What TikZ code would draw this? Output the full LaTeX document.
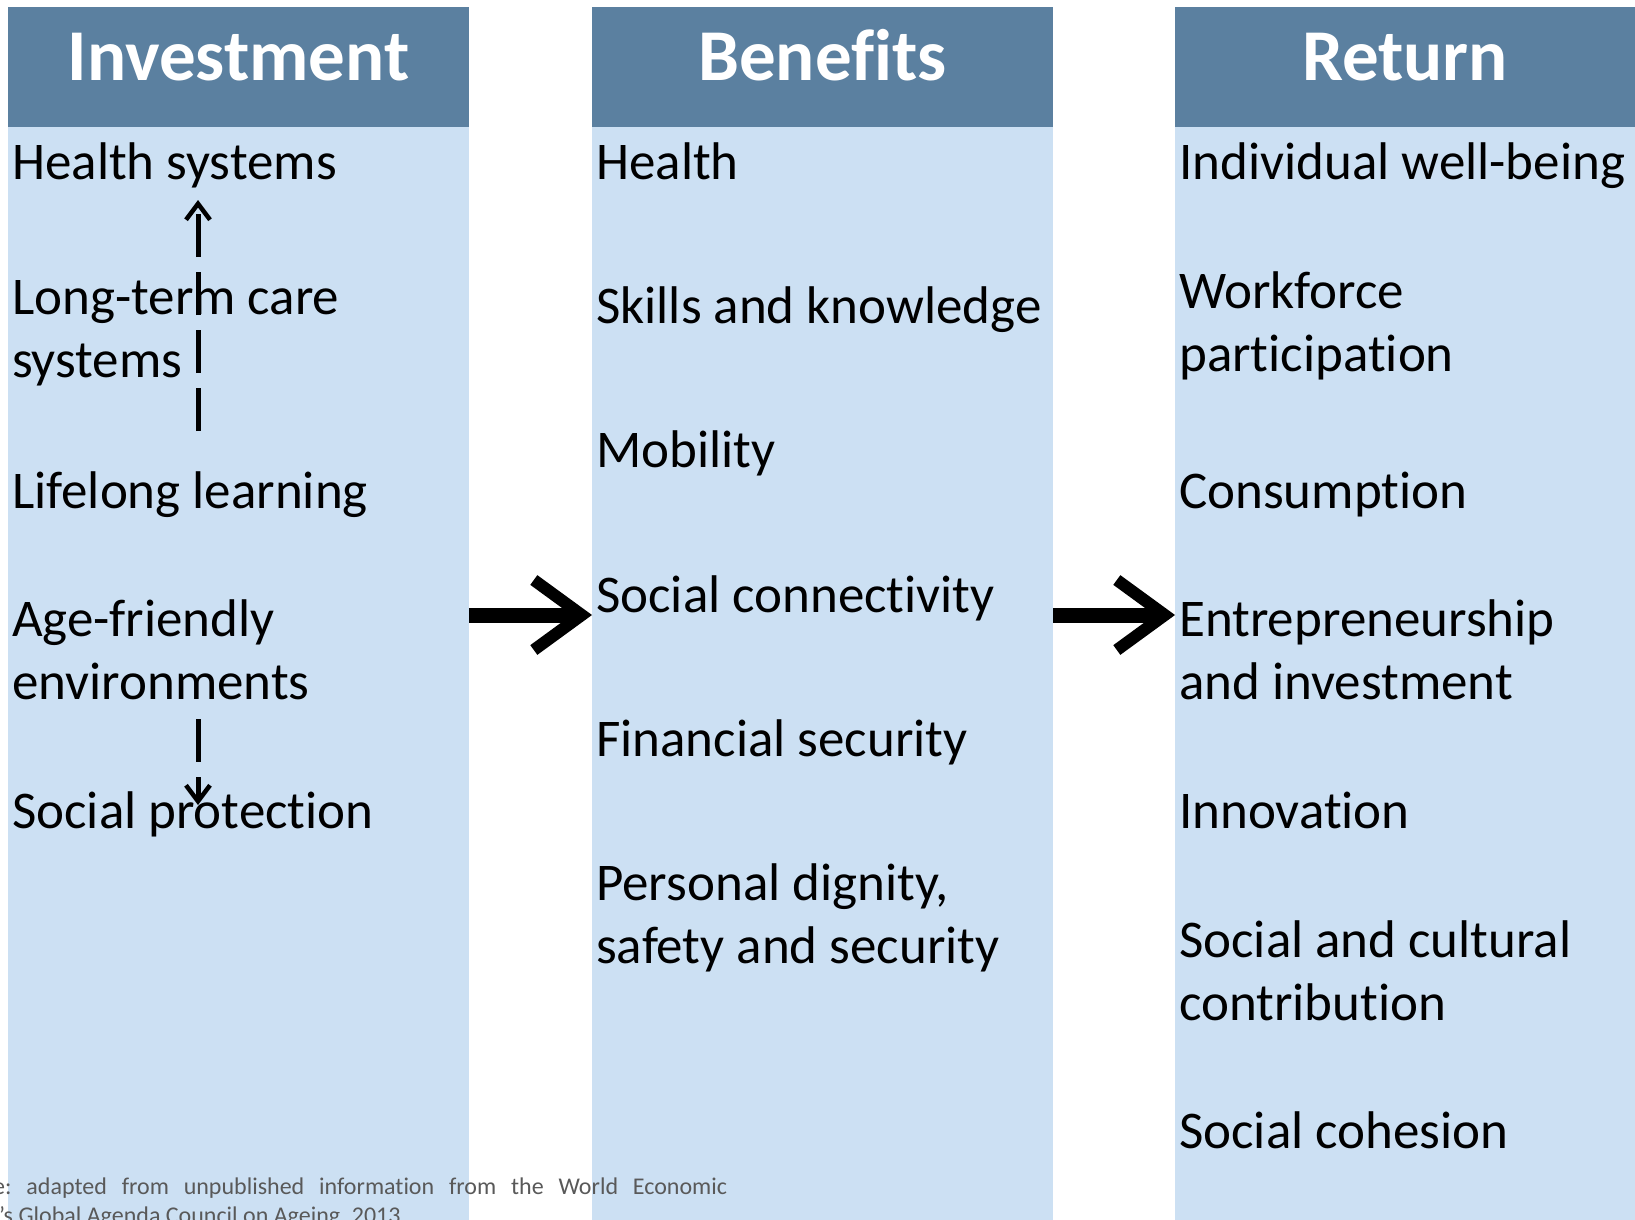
\documentclass[tikz,border=0pt]{standalone}
\usepackage{fontspec}
\setmainfont{Carlito}[Ligatures=CommonOff]
\usetikzlibrary{arrows.meta}
\definecolor{hdr}{RGB}{91,128,160}
\definecolor{colbg}{RGB}{204,224,243}
\definecolor{notegray}{RGB}{89,89,89}
\begin{document}
\frenchspacing
\begin{tikzpicture}[x=1pt,y=-1pt,
  colbox/.style={fill=colbg, draw=none, inner sep=0pt, outer sep=0pt, anchor=north west, minimum height=1213pt},
  hdrbox/.style={fill=hdr, draw=none, inner sep=0pt, outer sep=0pt, anchor=north west, minimum height=120pt},
  hdrtext/.style={anchor=base, inner sep=0pt, text=white, font=\fontsize{73}{88}\selectfont\bfseries},
  bodytext/.style={anchor=base west, inner sep=0pt, align=left, font=\fontsize{53}{63}\selectfont},
  notetext/.style={anchor=base west, inner sep=0pt, text=notegray, font=\fontsize{24}{29}\selectfont},
  bigarrow/.style={line width=15pt, -{Straight Barb[length=48pt,width=70pt,line width=12pt]}},
  dasharrow/.style={line width=5pt, dash pattern=on 43pt off 15pt, -{Straight Barb[length=16pt,width=24pt,line width=4.5pt]}}
]
\useasboundingbox (0,0) rectangle (1635,1220);
\clip (0,0) rectangle (1635,1220);

% columns
\node[colbox, minimum width=461pt] (col1) at (8,7) {};
\node[colbox, minimum width=461pt] (col2) at (592,7) {};
\node[colbox, minimum width=460pt] (col3) at (1175,7) {};
\node[hdrbox, minimum width=461pt] (hd1) at (8,7) {};
\node[hdrbox, minimum width=461pt] (hd2) at (592,7) {};
\node[hdrbox, minimum width=460pt] (hd3) at (1175,7) {};

% headers
\node[hdrtext] (t1) at (238.5,81) {Investment};
\node[hdrtext] (t2) at (822.5,81) {Benefits};
\node[hdrtext] (t3) at (1405,81) {Return};

% column 1 (multi-line nodes are placed by the baseline of their last line)
\node[bodytext] (i1) at (12,179) {Health systems};
\node[bodytext] (i2) at (12,377) {Long-term care\\systems};
\node[bodytext] (i3) at (12,508) {Lifelong learning};
\node[bodytext] (i4) at (12,699) {Age-friendly\\environments};
\node[bodytext] (i5) at (12,828) {Social protection};

% column 2
\node[bodytext] (b1) at (596,179) {Health};
\node[bodytext] (b2) at (596,323) {Skills and knowledge};
\node[bodytext] (b3) at (596,467) {Mobility};
\node[bodytext] (b4) at (596,612) {Social connectivity};
\node[bodytext] (b5) at (596,756) {Financial security};
\node[bodytext] (b6) at (596,963) {Personal dignity,\\safety and security};

% column 3
\node[bodytext] (r1) at (1179,179) {Individual well-being};
\node[bodytext] (r2) at (1179,371) {Workforce\\participation};
\node[bodytext] (r3) at (1179,508) {Consumption};
\node[bodytext] (r4) at (1179,699) {Entrepreneurship\\and investment};
\node[bodytext] (r5) at (1179,828) {Innovation};
\node[bodytext] (r6) at (1179,1020) {Social and cultural\\contribution};
\node[bodytext] (r7) at (1179,1148) {Social cohesion};

% big arrows between columns
\draw[bigarrow] (col1.east |- 0,615) -- (col2.west |- 0,615);
\draw[bigarrow] (col2.east |- 0,615) -- (col3.west |- 0,615);

% dashed arrows in investment column
\coordinate (upS) at (198,431);
\coordinate (upE) at (198,200);
\coordinate (dnS) at (198,719);
\coordinate (dnE) at (198,805);
\draw[dasharrow] (upS) -- (upE);
\draw[dasharrow] (dnS) -- (dnE);

% source note
\node[notetext] (n1) at (-7,1194) {\makebox[734pt][s]{e: adapted from unpublished information from the World Economic}};
\node[notetext] (n2) at (-1,1223) {’s Global Agenda Council on Ageing, 2013};
\end{tikzpicture}
\end{document}
